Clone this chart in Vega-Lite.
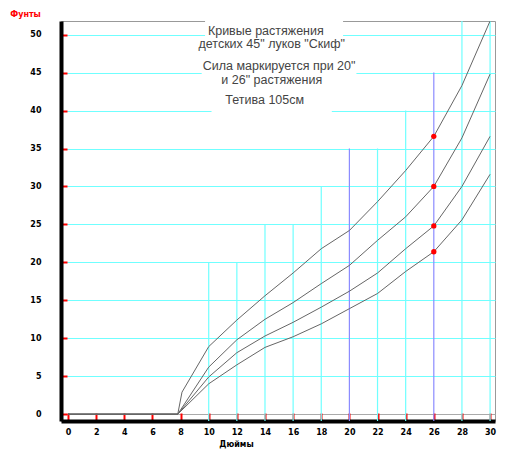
{
  "$schema": "https://vega.github.io/schema/vega-lite/v6.json",
  "width": 434,
  "height": 400,
  "autosize": {"type": "none"},
  "padding": {"left": 61, "top": 21, "right": 17, "bottom": 34},
  "background": "white",
  "config": {
    "view": {"stroke": "#999999", "strokeWidth": 1},
    "font": "Liberation Sans"
  },
  "datasets": {
    "vlines": [
      {"x": 10, "y": 20, "kind": "cyan"},
      {"x": 12, "y": 20, "kind": "cyan"},
      {"x": 14, "y": 25, "kind": "cyan"},
      {"x": 16, "y": 25, "kind": "cyan"},
      {"x": 18, "y": 30, "kind": "cyan"},
      {"x": 20, "y": 35, "kind": "blue"},
      {"x": 22, "y": 35, "kind": "cyan"},
      {"x": 24, "y": 40, "kind": "cyan"},
      {"x": 26, "y": 45, "kind": "blue"},
      {"x": 28, "y": 51.8, "kind": "cyan"},
      {"x": 30, "y": 51.8, "kind": "cyan"}
    ],
    "masks": [
      {"x": 9.74, "x2": 19.55, "y": 47.6, "y2": 52.2},
      {"x": 9.5, "x2": 20.5, "y": 43.3, "y2": 46.8},
      {"x": 10.2, "x2": 18.75, "y": 38.8, "y2": 42.3}
    ],
    "notes": [
      {"x": 14.06, "y": 50.49, "label": "Кривые растяжения"},
      {"x": 14.48, "y": 48.74, "label": "детских 45\" луков \"Скиф\""},
      {"x": 15.0, "y": 45.88, "label": "Сила маркируется при 20\""},
      {"x": 14.48, "y": 44.03, "label": "и 26\" растяжения"},
      {"x": 13.98, "y": 41.4, "label": "Тетива 105см"}
    ],
    "curves": [
      {"s": "1", "x": 0, "y": 0}, {"s": "1", "x": 7.8, "y": 0}, {"s": "1", "x": 8.1, "y": 2.9},
      {"s": "1", "x": 10, "y": 8.9}, {"s": "1", "x": 12, "y": 12.4}, {"s": "1", "x": 14, "y": 15.6},
      {"s": "1", "x": 16, "y": 18.6}, {"s": "1", "x": 18, "y": 21.8}, {"s": "1", "x": 20, "y": 24.2},
      {"s": "1", "x": 22, "y": 28}, {"s": "1", "x": 24, "y": 32.1}, {"s": "1", "x": 26, "y": 36.6},
      {"s": "1", "x": 28, "y": 43.3}, {"s": "1", "x": 30, "y": 51.8},
      {"s": "2", "x": 0, "y": 0}, {"s": "2", "x": 7.8, "y": 0}, {"s": "2", "x": 10, "y": 6.2},
      {"s": "2", "x": 12, "y": 9.8}, {"s": "2", "x": 14, "y": 12.5}, {"s": "2", "x": 16, "y": 14.7},
      {"s": "2", "x": 18, "y": 17.2}, {"s": "2", "x": 20, "y": 19.6}, {"s": "2", "x": 22, "y": 22.9},
      {"s": "2", "x": 24, "y": 26}, {"s": "2", "x": 26, "y": 30}, {"s": "2", "x": 28, "y": 36.4},
      {"s": "2", "x": 30, "y": 44.8},
      {"s": "3", "x": 0, "y": 0}, {"s": "3", "x": 7.8, "y": 0}, {"s": "3", "x": 10, "y": 4.9},
      {"s": "3", "x": 12, "y": 8.1}, {"s": "3", "x": 14, "y": 10.3}, {"s": "3", "x": 16, "y": 12.1},
      {"s": "3", "x": 18, "y": 14.1}, {"s": "3", "x": 20, "y": 16.2}, {"s": "3", "x": 22, "y": 18.6},
      {"s": "3", "x": 24, "y": 21.8}, {"s": "3", "x": 26, "y": 24.8}, {"s": "3", "x": 28, "y": 30},
      {"s": "3", "x": 30, "y": 36.6},
      {"s": "4", "x": 0, "y": 0}, {"s": "4", "x": 7.8, "y": 0}, {"s": "4", "x": 10, "y": 4},
      {"s": "4", "x": 12, "y": 6.5}, {"s": "4", "x": 14, "y": 8.8}, {"s": "4", "x": 16, "y": 10.2},
      {"s": "4", "x": 18, "y": 11.9}, {"s": "4", "x": 20, "y": 13.9}, {"s": "4", "x": 22, "y": 15.9},
      {"s": "4", "x": 24, "y": 18.8}, {"s": "4", "x": 26, "y": 21.4}, {"s": "4", "x": 28, "y": 25.6},
      {"s": "4", "x": 30, "y": 31.6}
    ],
    "marked": [
      {"x": 26, "y": 36.6},
      {"x": 26, "y": 30.0},
      {"x": 26, "y": 24.8},
      {"x": 26, "y": 21.4}
    ]
  },
  "encoding": {
    "x": {
      "field": "x",
      "type": "quantitative",
      "scale": {"domain": [-0.5, 30.35], "nice": false, "zero": false},
      "axis": {
        "title": "Дюймы",
        "values": [0, 2, 4, 6, 8, 10, 12, 14, 16, 18, 20, 22, 24, 26, 28, 30],
        "grid": false,
        "domainColor": "black",
        "domainWidth": 4,
        "tickColor": "red",
        "tickWidth": 2,
        "tickSize": -8,
        "labelFont": "DejaVu Sans",
        "labelFontWeight": "bold",
        "labelFontSize": 8,
        "labelColor": "black",
        "labelPadding": 15,
        "labelBaseline": "top",
        "titleFont": "DejaVu Sans",
        "titleFontSize": 8,
        "titleFontWeight": "bold",
        "titleColor": "black",
        "titleX": 175,
        "titleY": 23,
        "titleBaseline": "middle"
      }
    },
    "y": {
      "field": "y",
      "type": "quantitative",
      "scale": {"domain": [-0.9, 51.8], "nice": false, "zero": false},
      "axis": {
        "title": "Фунты",
        "values": [0, 5, 10, 15, 20, 25, 30, 35, 40, 45, 50],
        "grid": true,
        "gridColor": {"condition": {"test": "datum.value === 0", "value": "#aaaaaa"}, "value": "#70ffff"},
        "gridWidth": 1,
        "domainColor": "black",
        "domainWidth": 4,
        "tickColor": "red",
        "tickWidth": 2,
        "tickSize": -6,
        "labelFont": "DejaVu Sans",
        "labelFontWeight": "bold",
        "labelFontSize": 8,
        "labelColor": "black",
        "labelPadding": 26,
        "labelBaseline": "middle",
        "titleFont": "DejaVu Sans",
        "titleFontSize": 8,
        "titleFontWeight": "bold",
        "titleColor": "red",
        "titleAngle": 0,
        "titleAlign": "center",
        "titleBaseline": "middle",
        "titleX": -36,
        "titleY": -7
      }
    }
  },
  "layer": [
    {
      "data": {"name": "vlines"},
      "mark": {"type": "rule", "strokeWidth": 1.2},
      "encoding": {
        "y2": {"datum": -0.9},
        "color": {
          "field": "kind",
          "type": "nominal",
          "scale": {"domain": ["cyan", "blue"], "range": ["#70ffff", "#8c8cff"]},
          "legend": null
        }
      }
    },
    {
      "data": {"name": "masks"},
      "mark": {"type": "rect", "fill": "white"},
      "encoding": {
        "x2": {"field": "x2"},
        "y2": {"field": "y2"}
      }
    },
    {
      "data": {"name": "notes"},
      "mark": {"type": "text", "align": "center", "baseline": "middle", "fontSize": 12.5, "color": "#444444", "font": "Liberation Sans"},
      "encoding": {
        "text": {"field": "label", "type": "nominal"}
      }
    },
    {
      "data": {"name": "curves"},
      "mark": {"type": "line", "strokeWidth": 1, "color": "#666666"},
      "encoding": {
        "detail": {"field": "s", "type": "nominal"}
      }
    },
    {
      "data": {"name": "marked"},
      "mark": {"type": "point", "filled": true, "color": "#ff0000", "size": 28, "opacity": 1}
    }
  ]
}
